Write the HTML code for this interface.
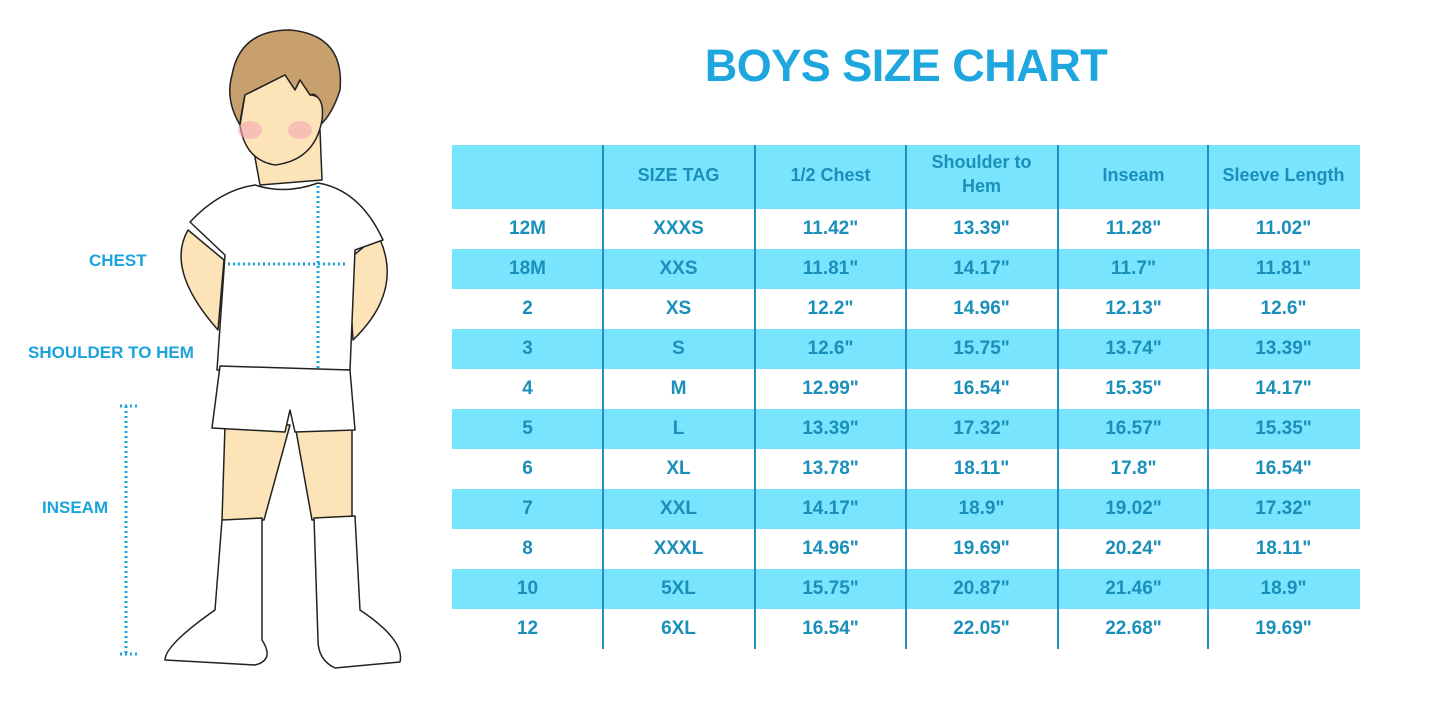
<!DOCTYPE html>
<html><head><meta charset="utf-8"><style>
body{margin:0;width:1445px;height:723px;background:#fff;position:relative;overflow:hidden;font-family:"Liberation Sans",sans-serif}
.t{position:absolute;left:697px;width:418px;text-align:center;top:40px;font-size:45px;font-weight:bold;color:#1ea6df;letter-spacing:-0.5px;white-space:nowrap}
.row{position:absolute;left:452px;width:908px;height:40px}
.b{background:#79e4fd}
.c{position:absolute;width:151px;text-align:center;font-weight:bold;color:#1a8fba;font-size:19px;line-height:40px}
.v{position:absolute;top:145px;height:504px;width:2px;background:#2190c0}
.lab{position:absolute;color:#1aa3dc;font-weight:bold;font-size:17px}
</style></head><body>
<div class="t">BOYS SIZE CHART</div>
<div class="row b" style="top:145px;height:64px"></div>
<div class="row b" style="top:249px"></div>
<div class="row b" style="top:329px"></div>
<div class="row b" style="top:409px"></div>
<div class="row b" style="top:489px"></div>
<div class="row b" style="top:569px"></div>
<div id="cells"></div>
<div class="v" style="left:602px"></div><div class="v" style="left:754px"></div><div class="v" style="left:905px"></div><div class="v" style="left:1057px"></div><div class="v" style="left:1207px"></div>
<script>
var h=["","SIZE TAG","1/2 Chest","Shoulder to<br>Hem","Inseam","Sleeve Length"];
var d=[["12M","XXXS","11.42\"","13.39\"","11.28\"","11.02\""],["18M","XXS","11.81\"","14.17\"","11.7\"","11.81\""],["2","XS","12.2\"","14.96\"","12.13\"","12.6\""],["3","S","12.6\"","15.75\"","13.74\"","13.39\""],["4","M","12.99\"","16.54\"","15.35\"","14.17\""],["5","L","13.39\"","17.32\"","16.57\"","15.35\""],["6","XL","13.78\"","18.11\"","17.8\"","16.54\""],["7","XXL","14.17\"","18.9\"","19.02\"","17.32\""],["8","XXXL","14.96\"","19.69\"","20.24\"","18.11\""],["10","5XL","15.75\"","20.87\"","21.46\"","18.9\""],["12","6XL","16.54\"","22.05\"","22.68\"","19.69\""]];
var xs=[452,603,755,906,1058,1208],s="";
h.forEach(function(t,i){s+='<div class="c" style="left:'+xs[i]+'px;top:'+(i==3?150:163)+'px;line-height:24px;font-size:18px">'+t+'</div>'});
d.forEach(function(r,j){r.forEach(function(t,i){s+='<div class="c" style="left:'+xs[i]+'px;top:'+(209+40*j)+'px">'+t+'</div>'})});
document.getElementById('cells').innerHTML=s;
</script>
<div class="lab" style="left:89px;top:251px">CHEST</div>
<div class="lab" style="left:28px;top:343px">SHOULDER TO HEM</div>
<div class="lab" style="left:42px;top:498px">INSEAM</div>
<svg style="position:absolute;left:0;top:0" width="450" height="723">
<g stroke="#222" stroke-width="1.5" stroke-linejoin="round">
<path d="M225 425 L222 520 L264 520 L290 425 Z" fill="#fde3b8"/>
<path d="M295 425 L312 520 L352 518 L352 425 Z" fill="#fde3b8"/>
<path d="M188 230 Q165 270 218 330 L224 260 Z" fill="#fde3b8"/>
<path d="M378 235 Q405 290 353 340 L348 260 Z" fill="#fde3b8"/>
<path d="M250 130 L260 185 L322 180 L320 130 Z" fill="#fde3b8"/>
<path d="M232 75 Q240 30 290 30 Q345 35 340 90 Q332 115 320 125 Q322 90 310 95 L300 80 L295 90 L285 75 Q265 85 245 95 Q240 120 240 125 Q225 100 232 75Z" fill="#c8a06e"/>
<path d="M245 95 Q265 85 285 75 L295 90 L300 80 L310 95 Q325 95 322 120 Q315 160 275 165 Q245 160 240 125 Z" fill="#fde3b8"/>
<path d="M255 185 Q285 195 318 183 Q360 190 383 240 L355 250 L350 370 L217 370 L225 255 L190 222 Q220 190 255 185Z" fill="#fff"/>
<path d="M220 366 L350 370 L355 430 L295 432 L290 410 L285 432 L212 428 Z" fill="#fff"/>
<path d="M222 520 L262 518 L262 640 Q275 660 255 665 L165 660 Q165 645 215 610 Z" fill="#fff"/>
<path d="M314 518 L355 516 L360 610 Q405 640 400 662 L335 668 Q318 660 318 640 Z" fill="#fff"/>
</g>
<ellipse cx="250" cy="130" rx="12" ry="9" fill="#f5a8b0" opacity=".6"/>
<ellipse cx="300" cy="130" rx="12" ry="9" fill="#f5a8b0" opacity=".6"/>
<g stroke="#1aa3dc" stroke-width="3" stroke-dasharray="2 3" fill="none">
<path d="M228 264 L345 264"/><path d="M318 186 L318 368"/>
<path d="M126 406 L126 654"/><path d="M120 406 L140 406"/><path d="M120 654 L140 654"/>
</g>
</svg>
</body></html>
